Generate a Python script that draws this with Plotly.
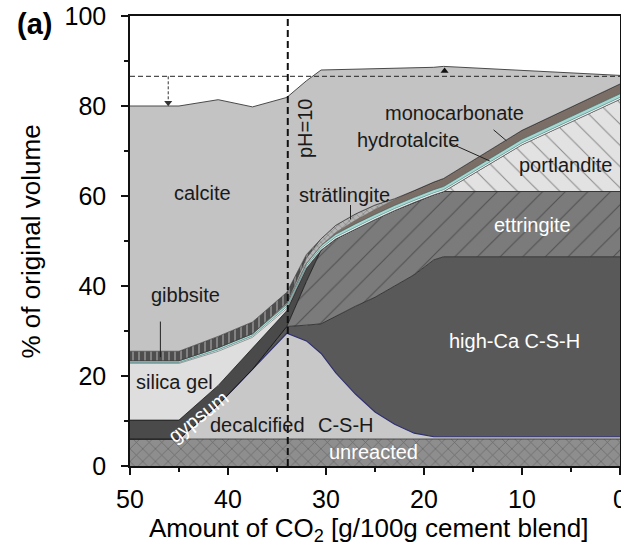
import plotly.graph_objects as go

# CO2 added [g/100 g cement blend], shared sampling points for every phase
co2 = [50, 45, 41, 37.5, 34, 32, 30.5, 29, 27, 25, 23, 21, 19, 18, 10, 0]

# Phase volumes (% of original volume), bottom to top of the stack
unreacted = [6, 6, 6, 6, 6, 6, 6, 6, 6, 6, 6, 6, 6, 6, 6, 6]
decalcified_csh = [0, 0, 7.6, 15.5, 23.5, 21.8, 19, 14.7, 10, 6, 3.3, 1.3, 0.5, 0.5, 0.5, 0.5]
high_ca_csh = [0, 0, 0, 0, 1.5, 3.5, 6.6, 12.5, 19.5, 25.5, 30.7, 35.2, 39.3, 40, 40, 40]
ettringite = [0, 0, 0, 0, 0, 9.7, 16.4, 17.3, 17.2, 17.3, 16.8, 16.1, 14.5, 14.5, 14.5, 14.5]
gypsum = [4.2, 4.2, 4.3, 4.6, 3.5, 3.0, 0, 0, 0, 0, 0, 0, 0, 0, 0, 0]
portlandite = [0, 0, 0, 0, 0, 0, 0, 0, 0, 0, 0, 0, 0, 0, 10.4, 20.5]
silica_gel = [12.6, 12.6, 7.6, 2.5, 0.5, 0, 0, 0, 0, 0, 0, 0, 0, 0, 0, 0]
minor_afm = [0.2, 0.2, 0.3, 0.3, 0.4, 0.4, 0.4, 0.4, 0.4, 0.4, 0.4, 0.4, 0.4, 0.4, 0.4, 0.4]
hydrotalcite = [0.4, 0.4, 0.5, 0.5, 0.6, 0.6, 0.6, 0.6, 0.7, 0.7, 0.7, 0.7, 0.7, 0.7, 0.8, 0.8]
monocarbonate = [0, 0, 0, 0, 0, 0, 0, 0.4, 0.8, 1.1, 1.3, 1.5, 1.7, 1.8, 2.0, 2.2]
stratlingite = [0, 0, 0, 0, 0.3, 1.2, 1.5, 1.6, 1.4, 1.0, 0.2, 0, 0, 0, 0, 0]
gibbsite = [2.1, 2.1, 2.5, 2.6, 2.3, 0.8, 0, 0, 0, 0, 0, 0, 0, 0, 0, 0]
calcite = [54.5, 54.5, 52.6, 47.8, 43.3, 38.6, 37.5, 34.6, 32.2, 30.3, 29.0, 27.3, 25.5, 24.9, 13.4, 1.9]

x_ticks = [50, 40, 30, 20, 10, 0]
y_ticks = [0, 20, 40, 60, 80, 100]
initial_volume = 86.6   # reference level of the starting paste
ph10_co2 = 33.9         # CO2 content where pH drops to 10

FONT = "Liberation Sans, Arial, sans-serif"

# (values, fill colour, outline colour, outline width, pattern)
layers = [
    (unreacted, "#8e8e8e", "#333333", 0.8,
     dict(shape="x", bgcolor="#8e8e8e", fgcolor="#3a3a3a", size=9, solidity=0.15)),
    (decalcified_csh, "#c8c8c8", "#2e2e72", 1.1, None),
    (high_ca_csh, "#595959", "#222222", 0.8, None),
    (ettringite, "#7b7b7b", "#111111", 0.8,
     dict(shape="/", bgcolor="#7b7b7b", fgcolor="#262626", size=16, solidity=0.07)),
    (gypsum, "#4a4a4a", "#222222", 0.8, None),
    (portlandite, "#e2e2e2", "#222222", 0.8,
     dict(shape="\\", bgcolor="#e2e2e2", fgcolor="#333333", size=15, solidity=0.07)),
    (silica_gel, "#dedede", "#555555", 0.6, None),
    (minor_afm, "#ffffff", "#3d6b6b", 0.6, None),
    (hydrotalcite, "#a5d9d2", "#2d5555", 0.6, None),
    (monocarbonate, "#7a6e66", "#5a5048", 0.6, None),
    (stratlingite, "#a8a8a8", "#333333", 0.6,
     dict(shape="x", bgcolor="#b4b4b4", fgcolor="#3a3a3a", size=5, solidity=0.2)),
    (gibbsite, "#4e4e4e", "#222222", 0.6,
     dict(shape="|", bgcolor="#4e4e4e", fgcolor="#d8d8d8", size=6, solidity=0.25)),
    (calcite, "#c3c3c3", "#4a4a4a", 1.0, None),
]

fig = go.Figure()
for vals, fill, lc, lw, pat in layers:
    kw = dict(x=co2, y=vals, mode="lines", stackgroup="phases",
              fillcolor=fill, line=dict(color=lc, width=lw, shape="linear"),
              hoverinfo="skip", showlegend=False)
    if pat is not None:
        kw["fillpattern"] = pat
    fig.add_trace(go.Scatter(**kw))

# arrow heads: volume shrinkage (down) and expansion (up) relative to the initial volume
fig.add_trace(go.Scatter(x=[46.1], y=[80.7], mode="markers", hoverinfo="skip", showlegend=False,
                         marker=dict(symbol="triangle-down", size=7, color="#333333")))
fig.add_trace(go.Scatter(x=[17.9], y=[87.8], mode="markers", hoverinfo="skip", showlegend=False,
                         marker=dict(symbol="triangle-up", size=7, color="#111111")))

shapes = [
    # initial volume reference
    dict(type="line", xref="x", yref="y", x0=50, x1=0, y0=initial_volume, y1=initial_volume,
         line=dict(color="#222222", width=1, dash="5px,3px")),
    # pH = 10 marker
    dict(type="line", xref="x", yref="y", x0=ph10_co2, x1=ph10_co2, y0=0, y1=100,
         line=dict(color="#111111", width=2, dash="7px,4px")),
    # shrinkage arrow shaft
    dict(type="line", xref="x", yref="y", x0=46.1, x1=46.1, y0=initial_volume, y1=81.5,
         line=dict(color="#333333", width=1, dash="3px,2px")),
    # leader lines
    dict(type="line", xref="x", yref="y", x0=46.9, x1=46.9, y0=32.1, y1=24.2,
         line=dict(color="#222222", width=1)),
    dict(type="line", xref="x", yref="y", x0=27.5, x1=27.5, y0=58.0, y1=54.8,
         line=dict(color="#222222", width=1)),
    dict(type="line", xref="x", yref="y", x0=17.3, x1=13.3, y0=71.7, y1=67.8,
         line=dict(color="#222222", width=1)),
    dict(type="line", xref="x", yref="y", x0=12.9, x1=11.6, y0=74.7, y1=72.3,
         line=dict(color="#222222", width=1)),
]

def label(text, x, y, color="#1a1a1a", size=20, angle=0):
    return dict(text=text, x=x, y=y, xref="x", yref="y", showarrow=False,
                font=dict(family=FONT, size=size, color=color), textangle=angle,
                xanchor="center", yanchor="middle")

annotations = [
    label("calcite", 42.6, 60.7),
    label("gibbsite", 44.3, 38.0),
    label("silica gel", 45.5, 18.7),
    label("gypsum", 43.1, 11.0, color="#ffffff", angle=-38),
    label("decalcified", 37.0, 9.1),
    label("C-S-H", 28.0, 9.1),
    label("unreacted", 25.2, 3.2, color="#ffffff"),
    label("high-Ca C-S-H", 10.8, 27.8, color="#ffffff"),
    label("ettringite", 8.9, 53.6, color="#ffffff"),
    label("portlandite", 5.6, 66.9),
    label("hydrotalcite", 21.6, 72.4),
    label("monocarbonate", 16.85, 78.4),
    label("strätlingite", 28.1, 60.2),
    label("pH=10", 32.2, 75.2, angle=-90),
    # panel tag and axis titles
    dict(text="<b>(a)</b>", x=-0.194, y=0.982, xref="paper", yref="paper", showarrow=False,
         font=dict(family=FONT, size=29, color="#000000"), xanchor="center", yanchor="middle"),
    dict(text="Amount of CO<sub>2</sub> [g/100g cement blend]", x=0.486, y=-0.142,
         xref="paper", yref="paper", showarrow=False,
         font=dict(family=FONT, size=26, color="#000000"), xanchor="center", yanchor="middle"),
    dict(text="% of original volume", x=-0.202, y=0.499, xref="paper", yref="paper",
         showarrow=False, textangle=-90,
         font=dict(family=FONT, size=26, color="#000000"), xanchor="center", yanchor="middle"),
]

axis_common = dict(showgrid=False, zeroline=False, showline=True, mirror=True,
                   automargin=False,
                   linecolor="#111111", linewidth=1.5, ticks="outside", ticklen=7,
                   tickwidth=1.5, tickcolor="#111111", ticklabeloverflow="allow",
                   tickfont=dict(family=FONT, size=25, color="#000000"))

fig.update_layout(
    width=621, height=551,
    margin=dict(l=130, r=1, t=16, b=85),
    paper_bgcolor="#ffffff", plot_bgcolor="#ffffff",
    showlegend=False,
    xaxis=dict(range=[50, 0], tickvals=x_ticks, ticklabelstandoff=3,
               minor=dict(dtick=5, ticks="outside", ticklen=4, tickwidth=1.5, tickcolor="#111111"),
               **axis_common),
    yaxis=dict(range=[0, 100], tickvals=y_ticks, ticklabelstandoff=10,
               minor=dict(dtick=10, ticks="outside", ticklen=4, tickwidth=1.5, tickcolor="#111111"),
               **axis_common),
    shapes=shapes,
    annotations=annotations,
)

fig.write_html("out.html")
